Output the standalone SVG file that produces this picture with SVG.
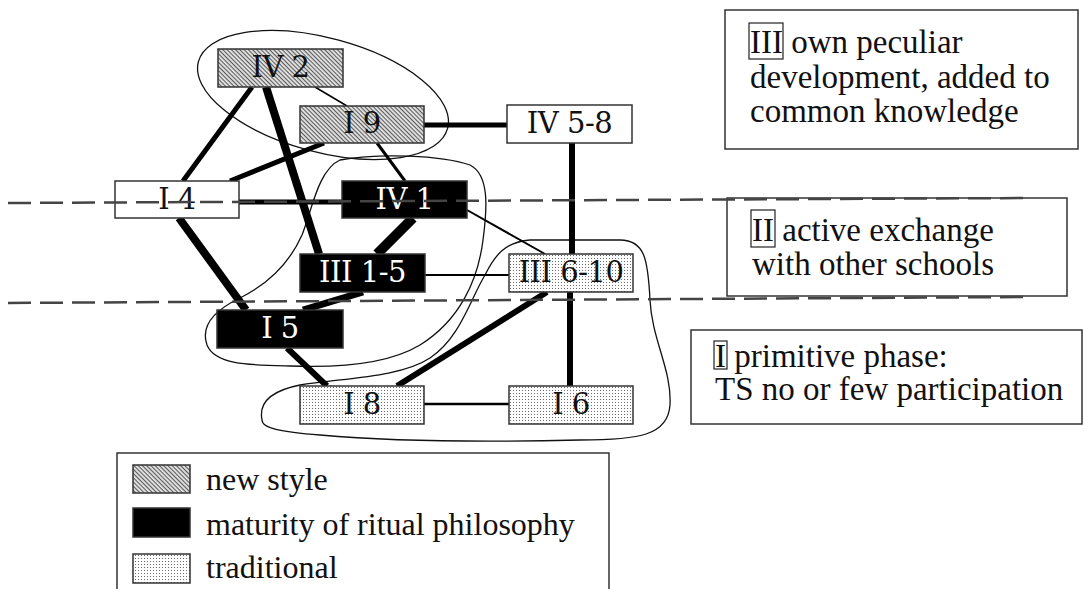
<svg xmlns="http://www.w3.org/2000/svg" width="1084" height="589" viewBox="0 0 1084 589">
<style>
.box{stroke:#333;stroke-width:1.5}
.lbl{font-family:"DejaVu Serif",serif;font-size:29px;text-anchor:middle;fill:#111;letter-spacing:-0.5px}
.wl{fill:#fff}
.e{stroke:#000;fill:none}
.blob{fill:none;stroke:#111;stroke-width:1.3}
.txt{font-family:"Liberation Serif","Times New Roman",serif;font-size:33px;fill:#111}
.leg{font-family:"Liberation Serif","Times New Roman",serif;font-size:32px;fill:#111}
.frame{fill:#fff;stroke:#333;stroke-width:1.5}
.rn{fill:none;stroke:#222;stroke-width:1.2}
.dash{stroke:#444;stroke-width:2.5;stroke-dasharray:23 9;fill:none}
</style>
<defs>
<pattern id="hatch" width="3" height="3" patternUnits="userSpaceOnUse" patternTransform="rotate(45)">
<rect width="3" height="3" fill="#e4e4e4"/>
<rect width="3" height="1.1" fill="#5a5a5a"/>
</pattern>
<pattern id="dots" width="3" height="3" patternUnits="userSpaceOnUse">
<rect width="3" height="3" fill="#fff"/>
<rect width="1" height="1" fill="#6a6a6a"/>
</pattern>
</defs>
<rect width="1084" height="589" fill="#fff"/>

<g id="blobs">
<ellipse class="blob" cx="323" cy="95" rx="129" ry="57" transform="rotate(15 323 95)"/>
<path class="blob" d="M 340,160 C 380,153 440,155 470,165 C 490,175 487,210 483,240 C 478,280 460,320 420,345 C 390,363 340,368 290,366 C 250,365 215,365 207,345 C 200,325 215,310 240,298 C 270,283 290,262 302,235 C 312,210 318,170 340,160 Z"/>
<path class="blob" d="M 262,420 C 258,400 275,390 300,385 C 340,378 400,378 430,358 C 460,338 470,300 485,275 C 495,255 505,242 530,240 L 620,240 C 645,240 648,260 650,300 C 652,340 672,370 670,405 C 668,435 640,440 580,440 C 500,442 400,442 320,435 C 280,432 262,428 262,420 Z"/>
</g>

<g id="connectors">
<line class="e" x1="252" y1="87" x2="183" y2="181" stroke-width="5"/>
<line class="e" x1="266" y1="87" x2="319" y2="254" stroke-width="8"/>
<line class="e" x1="315" y1="87" x2="347" y2="106" stroke-width="1.5"/>
<line class="e" x1="324" y1="143" x2="230" y2="181" stroke-width="5"/>
<line class="e" x1="377" y1="143" x2="405" y2="181" stroke-width="3"/>
<line class="e" x1="424" y1="125" x2="507" y2="125" stroke-width="5"/>
<line class="e" x1="572" y1="143" x2="572" y2="254" stroke-width="6"/>
<line class="e" x1="239" y1="202" x2="342" y2="202" stroke-width="5"/>
<line class="e" x1="179" y1="218" x2="246" y2="310" stroke-width="8"/>
<line class="e" x1="413" y1="218" x2="377" y2="254" stroke-width="10"/>
<line class="e" x1="467" y1="210" x2="545" y2="254" stroke-width="2"/>
<line class="e" x1="425" y1="275" x2="509" y2="275" stroke-width="2"/>
<line class="e" x1="363" y1="292" x2="303" y2="310" stroke-width="7"/>
<line class="e" x1="287" y1="348" x2="327" y2="386" stroke-width="6"/>
<line class="e" x1="547" y1="292" x2="397" y2="386" stroke-width="6"/>
<line class="e" x1="570" y1="292" x2="570" y2="386" stroke-width="6"/>
<line class="e" x1="424" y1="404" x2="509" y2="404" stroke-width="2.5"/>
</g>

<g id="n-IV2"><rect class="box" x="218" y="49" width="125" height="38" fill="url(#hatch)"/><text class="lbl" x="280.5" y="77">IV 2</text></g>
<g id="n-I9"><rect class="box" x="300" y="106" width="124" height="37" fill="url(#hatch)"/><text class="lbl" x="362" y="133">I 9</text></g>
<g id="n-IV5-8"><rect class="box" x="507" y="105" width="125" height="38" fill="#fff"/><text class="lbl" x="569.5" y="133">IV 5-8</text></g>
<g id="n-I4"><rect class="box" x="115" y="181" width="124" height="37" fill="#fff"/><text class="lbl" x="177" y="209">I 4</text></g>
<g id="n-IV1"><rect class="box" x="342" y="181" width="125" height="37" fill="#000"/><text class="lbl wl" x="404.5" y="209">IV 1</text></g>
<g id="n-III1-5"><rect class="box" x="300" y="254" width="125" height="38" fill="#000"/><text class="lbl wl" x="362.5" y="282">III 1-5</text></g>
<g id="n-III6-10"><rect class="box" x="509" y="254" width="124" height="38" fill="url(#dots)"/><text class="lbl" x="571" y="282">III 6-10</text></g>
<g id="n-I5"><rect class="box" x="217" y="310" width="126" height="38" fill="#000"/><text class="lbl wl" x="280" y="338">I 5</text></g>
<g id="n-I8"><rect class="box" x="300" y="386" width="124" height="38" fill="url(#dots)"/><text class="lbl" x="362" y="414">I 8</text></g>
<g id="n-I6"><rect class="box" x="509" y="386" width="124" height="38" fill="url(#dots)"/><text class="lbl" x="571" y="414">I 6</text></g>

<g id="phase-III">
<rect class="frame" x="725" y="10" width="353" height="139"/>
<rect class="rn" x="749" y="23" width="34" height="36"/>
<text class="txt" x="750" y="53">III own peculiar</text>
<text class="txt" x="750" y="88">development, added to</text>
<text class="txt" x="750" y="122">common knowledge</text>
</g>
<g id="phase-II">
<rect class="frame" x="727" y="198" width="340" height="98"/>
<rect class="rn" x="751" y="210" width="24" height="37"/>
<text class="txt" x="752" y="241">II active exchange</text>
<text class="txt" x="752" y="275">with other schools</text>
</g>
<g id="phase-I">
<rect class="frame" x="691" y="330" width="391" height="94"/>
<rect class="rn" x="714" y="341" width="13" height="28"/>
<text class="txt" x="715" y="367">I primitive phase:</text>
<text class="txt" x="715" y="400">TS no or few participation</text>
</g>

<g id="dashed-lines">
<line class="dash" x1="8" y1="203" x2="1030" y2="198"/>
<line class="dash" x1="8" y1="303" x2="1030" y2="297"/>
</g>

<g id="legend">
<rect class="frame" x="117" y="453" width="492" height="150"/>
<rect class="box" x="133" y="465" width="57" height="28" fill="url(#hatch)"/>
<text class="leg" x="206" y="490">new style</text>
<rect class="box" x="133" y="508" width="57" height="29" fill="#000"/>
<text class="leg" x="206" y="535">maturity of ritual philosophy</text>
<rect class="box" x="133" y="554" width="57" height="29" fill="url(#dots)"/>
<text class="leg" x="206" y="578">traditional</text>
</g>
</svg>
